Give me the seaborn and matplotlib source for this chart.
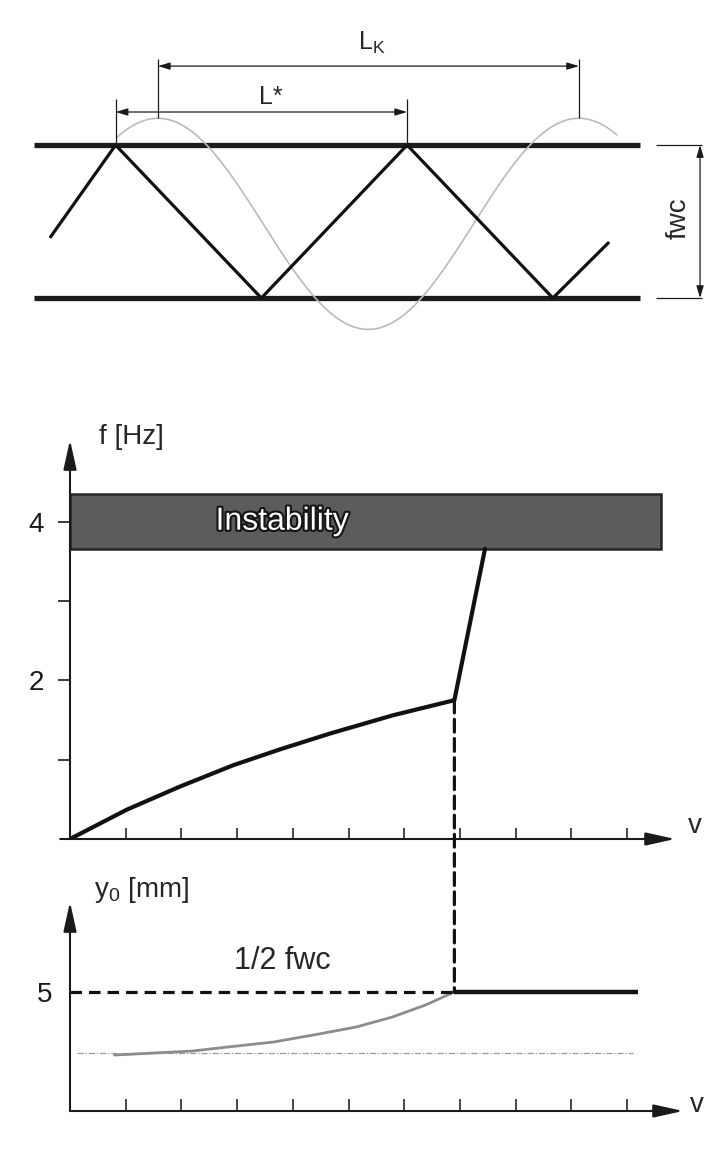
import numpy as np
import matplotlib
matplotlib.use("Agg")
import matplotlib.pyplot as plt
import matplotlib.patheffects as pe
from matplotlib.patches import ConnectionPatch
import seaborn as sns

# --- schematic (top): x in units of L*, y in mm across the channel ---
wall_y = [5.0, -5.0]                 # fwc = 10 mm
wall_x = [-0.28, 1.80]
zigzag_x = [-0.223, 0.0, 0.5, 1.0, 1.5, 1.69]
zigzag_y = [-1.0, 5.0, -5.0, 5.0, -5.0, -1.4]
sine_amp = 6.9
sine_len = 1.444                     # L_K / L*
sine_peak = 0.145
sine_mid = -0.15
sine_range = [0.005, 1.72]
lstar_span = [0.0, 1.0]
lk_span = [0.145, 1.59]

# --- f over v ---
v_knee = 6.9
v_f = [0, 1.02, 1.97, 2.93, 3.77, 4.67, 5.80, v_knee, 7.45]
f_hz = [0, 0.37, 0.66, 0.93, 1.13, 1.33, 1.56, 1.75, 3.66]
instab_low, instab_high, instab_end = 3.66, 4.35, 10.6
f_ticks = [1, 2, 3, 4]
f_ticklabels = ["", "2", "", "4"]
v_ticks = list(range(1, 11))

# --- y0 over v ---
v_y0 = [0.80, 2.20, 2.84, 3.66, 4.48, 5.14, 5.79, 6.38, v_knee]
y0_mm = [2.35, 2.52, 2.69, 2.90, 3.24, 3.53, 3.95, 4.45, 5.0]
half_fwc = 5.0
v_end = 10.2
y0_ref = 2.44
v_ref = [0.12, 10.1]

sns.set_theme(style="white")
plt.rcParams["font.family"] = ["Liberation Sans", "DejaVu Sans"]
plt.rcParams["mathtext.fontset"] = "custom"
plt.rcParams["mathtext.rm"] = "Liberation Sans"

W, H = 716, 1156
fig = plt.figure(figsize=(W / 100, H / 100), dpi=100)
fig.patch.set_facecolor("white")

# ================= top schematic =================
ax_t = fig.add_axes([0, 1 - 345 / H, 1, 315 / H])
ax_t.set_xlim(-0.3966, 2.0597)
ax_t.set_ylim(-8.07, 12.52)
ax_t.axis("off")

for y in wall_y:
    ax_t.plot(wall_x, [y, y], color="#1c1c1c", lw=3.8, solid_capstyle="butt")

xs = np.linspace(sine_range[0], sine_range[1], 400)
ys = sine_mid + sine_amp * np.cos(2 * np.pi * (xs - sine_peak) / sine_len)
sns.lineplot(x=xs, y=ys, ax=ax_t, color="#bababa", lw=1.2, sort=False, estimator=None)
sns.lineplot(x=zigzag_x, y=zigzag_y, ax=ax_t, color="#111111", lw=2.3,
             sort=False, estimator=None)

dim = dict(arrowstyle="<|-|>,head_length=0.6,head_width=0.18", color="k",
           lw=0.9, shrinkA=0, shrinkB=0, mutation_scale=12)
# L*
ax_t.vlines(lstar_span, 5.0, 8.0, color="k", lw=0.9)
ax_t.annotate("", xy=(lstar_span[1], 7.16), xytext=(lstar_span[0], 7.16), arrowprops=dim)
ax_t.text(0.533, 8.15, "L*", ha="center", va="center", fontsize=18)
# L_K
ax_t.vlines(lk_span, sine_mid + sine_amp, 10.6, color="k", lw=0.9)
ax_t.annotate("", xy=(lk_span[1], 10.16), xytext=(lk_span[0], 10.16), arrowprops=dim)
ax_t.text(0.88, 11.7, r"L$_\mathregular{K}$", ha="center", va="center", fontsize=18)
# fwc
ax_t.hlines(wall_y, 1.854, 2.012, color="k", lw=0.9)
ax_t.annotate("", xy=(2.005, wall_y[1]), xytext=(2.005, wall_y[0]), arrowprops=dim)
ax_t.text(1.933, 0.2, "fwc", rotation=90, ha="center", va="center", fontsize=20)

# ================= axis helper =================
axis_arrow = dict(arrowstyle="-|>,head_length=1.8,head_width=0.4", color="k",
                  lw=1.5, shrinkA=0, shrinkB=0, mutation_scale=10)


def draw_axes(ax, x_start, x_tip):
    for s in ax.spines.values():
        s.set_visible(False)
    ax.annotate("", xy=(0, 1), xytext=(0, 0), xycoords="axes fraction",
                arrowprops=axis_arrow)
    ax.annotate("", xy=(x_tip, 0), xytext=(x_start, 0), xycoords="axes fraction",
                arrowprops=axis_arrow)
    ax.set_facecolor("none")
    ax.grid(False)


# ================= f over v =================
ax_f = fig.add_axes([70 / W, 1 - 839 / H, 610 / W, 399 / H])
ax_f.set_xlim(0, 10.95)
ax_f.set_ylim(0, 5.03)
draw_axes(ax_f, -0.016, 0.992)

ax_f.barh(y=(instab_low + instab_high) / 2, width=instab_end,
          height=instab_high - instab_low, left=0,
          color="#5c5c5c", edgecolor="#262626", lw=1.8, zorder=1)
ax_f.text(3.81, 4.0, "Instability", ha="center", va="center", fontsize=23,
          color="white", zorder=3,
          path_effects=[pe.withStroke(linewidth=3, foreground="#141414")])
sns.lineplot(x=v_f, y=f_hz, ax=ax_f, color="#111111", lw=3,
             sort=False, estimator=None, zorder=2)

ax_f.set_yticks(f_ticks, f_ticklabels)
ax_f.set_xticks(v_ticks, [])
ax_f.tick_params(axis="y", direction="out", length=9, width=1.2, pad=10,
                 labelsize=20, left=True, colors="k")
ax_f.tick_params(axis="x", direction="in", length=8, width=1.2, bottom=True)
ax_f.set_xlabel("")
ax_f.set_ylabel("")
ax_f.text(1.11, 5.07, "f [Hz]", ha="center", va="center", fontsize=20, clip_on=False)
ax_f.text(11.22, 0.16, "v", ha="center", va="center", fontsize=20, clip_on=False)

# ================= y0 over v =================
ax_y = fig.add_axes([70 / W, 1 - 1111 / H, 610 / W, 209 / H])
ax_y.set_xlim(0, 10.95)
ax_y.set_ylim(0, 8.78)
draw_axes(ax_y, 0, 1.005)

ax_y.plot(v_ref, [y0_ref, y0_ref], color="#9a9a9a", lw=0.9,
          linestyle=(0, (5, 1.5, 1, 1.5)))
sns.lineplot(x=v_y0, y=y0_mm, ax=ax_y, color="#8c8c8c", lw=2,
             sort=False, estimator=None)
ax_y.plot([0, v_knee], [half_fwc, half_fwc], color="#111111", lw=2.3,
          linestyle=(0, (3.6, 2.2)))
ax_y.plot([v_knee, v_end], [half_fwc, half_fwc], color="#111111", lw=3.2,
          solid_capstyle="butt")
ax_y.text(3.81, 6.3, "1/2 fwc", ha="center", va="center", fontsize=22)

ax_y.set_yticks([half_fwc], ["5"])
ax_y.set_xticks(v_ticks, [])
ax_y.tick_params(axis="y", length=0, pad=13, labelsize=20, colors="k")
ax_y.tick_params(axis="x", direction="in", length=9, width=1.2, bottom=True)
ax_y.set_xlabel("")
ax_y.set_ylabel("")
ax_y.text(1.29, 9.29, r"y$_\mathregular{0}$ [mm]", ha="center", va="center",
          fontsize=20, clip_on=False)
ax_y.text(11.26, 0.25, "v", ha="center", va="center", fontsize=20, clip_on=False)

# dashed link from the knee in f down to 1/2 fwc
con = ConnectionPatch(xyA=(v_knee, f_hz[v_f.index(v_knee)]), coordsA=ax_f.transData,
                      xyB=(v_knee, half_fwc), coordsB=ax_y.transData,
                      color="#111111", lw=2.3, linestyle=(0, (4, 2)))
fig.add_artist(con)

fig.savefig("out.png", dpi=100, facecolor="white")
